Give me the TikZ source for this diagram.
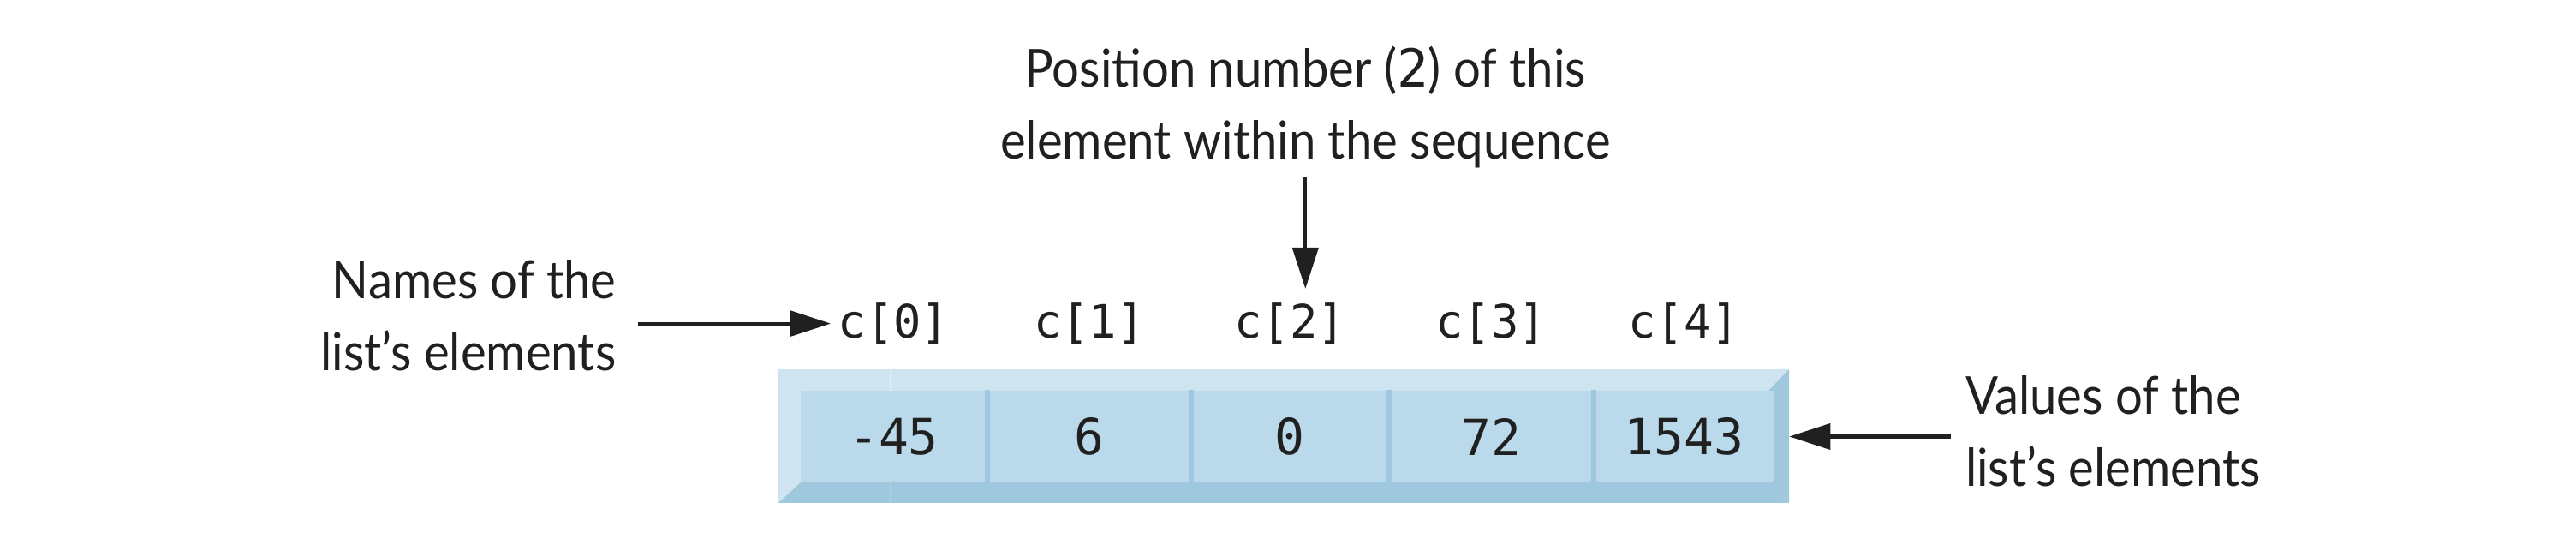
\documentclass[tikz,border=0pt]{standalone}
\usepackage{fontspec}
\setmainfont{Lato}[FakeStretch=0.92]
\newfontfamily\codefont{DejaVu Sans Mono}
\usetikzlibrary{arrows.meta, positioning}
\definecolor{bevellight}{HTML}{CEE4F0}
\definecolor{bevelshade}{HTML}{9FC7DD}
\definecolor{cellface}{HTML}{BADAEB}
\definecolor{ink}{HTML}{202020}
\tikzset{
    cell/.style={rectangle, fill=cellface, minimum height=1.07cm, inner sep=0pt, text=ink, font=\codefont\fontsize{16.5}{19}\selectfont},
    elemname/.style={inner sep=0pt, text=ink, font=\codefont\fontsize{15.3}{18}\selectfont},
    note/.style={inner sep=0pt, text=ink, font=\fontsize{17.4}{23.9}\selectfont},
    divider/.style={bevelshade, line width=1.7pt},
    arrow/.style={ink, line width=1.2pt, -{Triangle[length=0.48cm, width=0.30cm]}}
}
\begin{document}
\begin{tikzpicture}
    \useasboundingbox (0,0) rectangle (30.08,6.5);

    % Bevelled frame of the list
    \fill[bevellight] (9.09,2.19) -- (20.89,2.19) -- (20.65,1.94) -- (9.35,1.94) -- cycle;
    \fill[bevellight] (9.09,2.19) -- (9.35,1.94) -- (9.35,0.87) -- (9.09,0.63) -- cycle;
    \fill[bevelshade] (9.09,0.63) -- (20.89,0.63) -- (20.65,0.87) -- (9.35,0.87) -- cycle;
    \fill[bevelshade] (20.89,2.19) -- (20.89,0.63) -- (20.65,0.87) -- (20.65,1.94) -- cycle;
    \draw[white!40!bevellight, line width=0.4pt] (10.40,2.19) -- (10.40,1.94);
    \draw[white!15!bevelshade, line width=0.4pt] (10.40,0.87) -- (10.40,0.63);

    % Values
    \node (v0) [cell, minimum width=2.17cm] at (10.435,1.405) {-45};
    \node (v1) [cell, minimum width=2.37cm, right=0pt of v0] {6};
    \node (v2) [cell, minimum width=2.29cm, right=0pt of v1] {0};
    \node (v3) [cell, minimum width=2.38cm, right=0pt of v2] {72};
    \node (v4) [cell, minimum width=2.09cm, right=0pt of v3] {1543};

    \draw[divider] (v0.north east) -- (v0.south east);
    \draw[divider] (v1.north east) -- (v1.south east);
    \draw[divider] (v2.north east) -- (v2.south east);
    \draw[divider] (v3.north east) -- (v3.south east);

    % Element names
    \node (c0) [elemname, above=0.53cm of v0] {c[0]};
    \node (c1) [elemname, above=0.53cm of v1] {c[1]};
    \node (c2) [elemname, above=0.53cm of v2] {c[2]};
    \node (c3) [elemname, above=0.53cm of v3] {c[3]};
    \node (c4) [elemname, above=0.53cm of v4] {c[4]};

    % Notes
    \node (names) [note, align=right, left=2.58cm of c0, yshift=0.09cm] {Names of the\\list's elements};
    \node (values) [note, align=left, right=2.23cm of v4, yshift=0.06cm] {Values of the\\list's elements};
    \node (pos) [note, align=center, above=1.56cm of c2, xshift=0.18cm] {Position number ({\codefont 2}) of this\\element within the sequence};

    \draw[arrow, shorten <=0.25cm, shorten >=0.08cm] (names.east |- c0) -- (c0.west);
    \draw[arrow, shorten <=0.16cm, shorten >=0.18cm] (values.west |- v4) -- (v4.east);
    \draw[arrow, shorten <=0.1cm, shorten >=0.16cm] (pos.south) -- (pos.south |- c2.north);

\end{tikzpicture}
\end{document}
